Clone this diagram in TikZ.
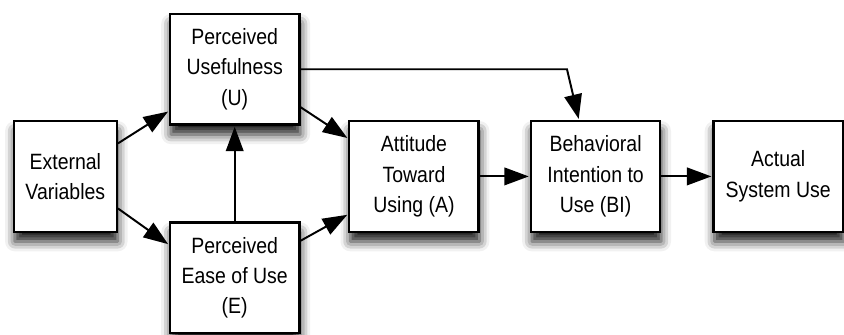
\documentclass[tikz,border=0pt]{standalone}
\usepackage{fontspec}
\setmainfont{Liberation Sans}[FakeStretch=0.88]
\usetikzlibrary{arrows.meta,positioning,calc,shadows.blur}
\tikzset{
    box/.style={%Box format configuration
        draw, line width=1.2pt, fill=white, align=center,
        minimum width=66pt, minimum height=56.5pt, inner sep=2pt,
        font=\fontsize{11.3}{15.5}\selectfont,
        blur shadow={shadow xshift=0.5pt, shadow yshift=-5pt, shadow blur radius=5pt, shadow opacity=90}
        },
    narrowbox/.style={box, minimum width=52.5pt}
    }
\begin{document}
\begin{tikzpicture}[>={Triangle[length=12.5pt,width=9pt]},line width=1pt,shorten >=0.5pt]
    \node [narrowbox] (ev) {External\\Variables};

    \node [box] (pu) [above right=-3pt and 26pt of ev] {Perceived\\Usefulness\\(U)};
    \node [box] (peou) [below right=-6pt and 26pt of ev] {Perceived\\Ease of Use\\(E)};
    \node [box] (att) [right=117.5pt of ev] {Attitude\\Toward\\Using (A)};
    \node [box] (bi) [right=25.5pt of att] {Behavioral\\Intention to\\Use (BI)};
    \node [box] (asu) [right=26pt of bi] {Actual\\System Use};

    \useasboundingbox ($(ev.west |- pu.north)+(-6.5pt,6.5pt)$) rectangle ++(422pt,-164.5pt);

    \coordinate (turn) at ([xshift=19pt]bi.north west |- pu.east);
    \coordinate (bitop) at ([xshift=-8.5pt]bi.north);

    \path[->] ([yshift=-12pt]ev.north east) edge ([yshift=7.5pt]pu.south west);
    \path[->] ([yshift=12.5pt]ev.south east) edge ([yshift=-12pt]peou.north west);
    \path[->] (peou.north) edge (pu.south);
    \path[->] ([yshift=9.5pt]pu.south east) edge ([yshift=-9.5pt]att.north west);
    \path[->] ([yshift=-10pt]peou.north east) edge ([yshift=9.5pt]att.south west);
    \path[->] (att) edge (bi);
    \path[->] (bi) edge (asu);
    \draw[->] (pu.east) -- (turn) -- (bitop);

\end{tikzpicture}
\end{document}
